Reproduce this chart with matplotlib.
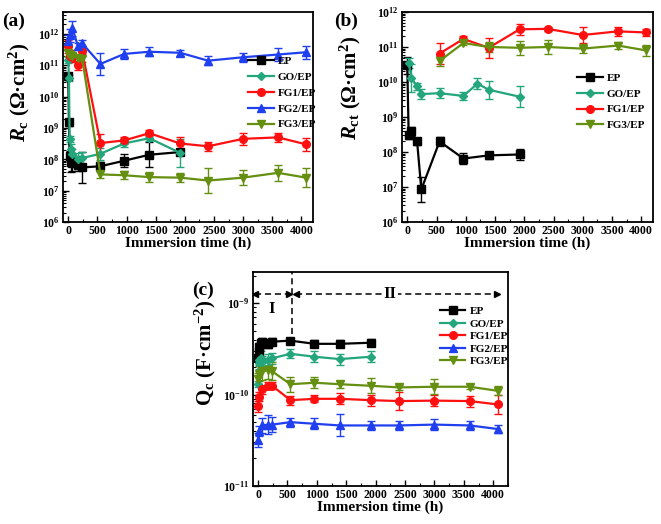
import numpy as np
import matplotlib
matplotlib.use("Agg")
import matplotlib.pyplot as plt
from matplotlib.ticker import MultipleLocator, LogLocator, NullFormatter

plt.rcParams['font.family'] = 'Liberation Serif'
plt.rcParams['font.weight'] = 'bold'
plt.rcParams['mathtext.fontset'] = 'custom'
plt.rcParams['mathtext.rm'] = 'Liberation Serif:bold'
plt.rcParams['mathtext.it'] = 'Liberation Serif:bold:italic'
plt.rcParams['mathtext.bf'] = 'Liberation Serif:bold'

# === Data ===
t_short = [0, 12, 24, 48, 72, 168, 240, 552, 960, 1392, 1920]
t_long = [0, 24, 72, 168, 240, 552, 960, 1392, 1920, 2400, 3000, 3600, 4080]
t_late = [552, 960, 1392, 1920, 2400, 3000, 3600, 4080]

# (a) coating resistance Rc
rc_ep = [4.5e10, 1.5e9, 1.3e8, 8e7, 7.5e7, 6.5e7, 5.5e7, 6e7, 9e7, 1.4e8, 1.7e8]
rc_ep_err = [0.1, 0.1, 0.15, 0.3, 0.25, 0.2, 0.5, 0.15, 0.2, 0.4, 0.1]
rc_go = [1.5e11, 4e10, 4.5e8, 2.2e8, 1.5e8, 1e8, 1.1e8, 1.5e8, 3.2e8, 4.7e8, 1.6e8]
rc_go_err = [0.1, 0.1, 0.1, 0.15, 0.15, 0.2, 0.2, 0.2, 0.1, 0.1, 0.45]
rc_fg1 = [4e11, 2e11, 1.8e11, 1e11, 2.8e11, 3.3e8, 4e8, 6.8e8, 3.2e8, 2.6e8, 4.5e8, 5e8, 3e8]
rc_fg1_err = [0.2, 0.2, 0.15, 0.15, 0.1, 0.3, 0.1, 0.1, 0.2, 0.15, 0.2, 0.15, 0.2]
rc_fg2 = [6e11, 9e11, 1.5e12, 4e11, 5e11, 1.1e11, 2.3e11, 2.7e11, 2.5e11, 1.4e11, 1.8e11, 2.2e11, 2.6e11]
rc_fg2_err = [0.2, 0.2, 0.25, 0.1, 0.1, 0.35, 0.15, 0.15, 0.1, 0.15, 0.15, 0.2, 0.2]
rc_fg3 = [2.5e11, 2.2e11, 2e11, 1.7e11, 1.6e11, 3.3e7, 3.1e7, 2.7e7, 2.6e7, 2.1e7, 2.6e7, 3.7e7, 2.6e7]
rc_fg3_err = [0.1, 0.1, 0.1, 0.1, 0.1, 0.1, 0.12, 0.15, 0.15, 0.4, 0.25, 0.25, 0.3]

# (b) charge transfer resistance Rct
t_rct_ep = [0, 24, 72, 168, 240, 552, 960, 1392, 1920]
rct_ep = [3e10, 3e8, 4e8, 2e8, 8.5e6, 2e8, 6.5e7, 8e7, 8.5e7]
rct_ep_err = [0.25, 0.1, 0.1, 0.1, 0.35, 0.12, 0.15, 0.1, 0.15]
t_rct_go = [24, 72, 168, 240, 552, 960, 1200, 1392, 1920]
rct_go = [3.5e10, 1.3e10, 7.5e9, 4.5e9, 4.8e9, 4e9, 9e9, 6e9, 3.8e9]
rct_go_err = [0.15, 0.4, 0.1, 0.15, 0.15, 0.12, 0.15, 0.25, 0.3]
rct_fg1 = [6.5e10, 1.7e11, 9.5e10, 3.2e11, 3.3e11, 2.2e11, 2.8e11, 2.6e11]
rct_fg1_err = [0.3, 0.08, 0.28, 0.15, 0.06, 0.22, 0.12, 0.1]
rct_fg3 = [4e10, 1.3e11, 1e11, 9.5e10, 1e11, 9e10, 1.1e11, 8e10]
rct_fg3_err = [0.15, 0.06, 0.15, 0.2, 0.2, 0.12, 0.1, 0.15]

# (c) coating capacitance Qc
qc_ep = [2.5e-10, 2.9e-10, 3.3e-10, 3.7e-10, 3.8e-10, 3.6e-10, 3.8e-10, 3.9e-10, 3.6e-10, 3.6e-10, 3.7e-10]
qc_ep_err = [0.03, 0.05, 0.05, 0.04, 0.04, 0.05, 0.04, 0.03, 0.04, 0.04, 0.04]
qc_go = [1.3e-10, 2.2e-10, 2.4e-10, 2.5e-10, 2.3e-10, 2.4e-10, 2.5e-10, 2.8e-10, 2.6e-10, 2.45e-10, 2.6e-10]
qc_go_err = [0.03, 0.06, 0.06, 0.08, 0.06, 0.06, 0.06, 0.05, 0.06, 0.06, 0.06]
qc_fg1 = [7.5e-11, 9.5e-11, 1.15e-10, 1.25e-10, 1.25e-10, 8.7e-11, 9e-11, 9e-11, 8.7e-11, 8.5e-11, 8.6e-11, 8.5e-11, 7.8e-11]
qc_fg1_err = [0.06, 0.05, 0.05, 0.04, 0.04, 0.05, 0.04, 0.06, 0.06, 0.1, 0.06, 0.06, 0.1]
qc_fg2 = [3.2e-11, 4e-11, 4.6e-11, 4.7e-11, 4.7e-11, 5e-11, 4.8e-11, 4.6e-11, 4.6e-11, 4.6e-11, 4.7e-11, 4.6e-11, 4.2e-11]
qc_fg2_err = [0.08, 0.06, 0.08, 0.1, 0.08, 0.05, 0.06, 0.12, 0.05, 0.05, 0.06, 0.05, 0.04]
qc_fg3 = [1.5e-10, 1.7e-10, 1.8e-10, 1.85e-10, 1.8e-10, 1.3e-10, 1.35e-10, 1.3e-10, 1.25e-10, 1.2e-10, 1.22e-10, 1.22e-10, 1.1e-10]
qc_fg3_err = [0.06, 0.08, 0.1, 0.1, 0.1, 0.08, 0.06, 0.04, 0.08, 0.03, 0.08, 0.03, 0.05]

# === Styles ===
styles = {
    "EP": dict(color="black", marker="s"),
    "GO/EP": dict(color="#24a67c", marker="D"),
    "FG1/EP": dict(color="#ff1010", marker="o"),
    "FG2/EP": dict(color="#2040f0", marker="^"),
    "FG3/EP": dict(color="#658f10", marker="v"),
}


def draw(ax, name, t, v, err):
    v = np.array(v)
    e = 10 ** np.array(err)
    yerr = [v - v / e, v * e - v]
    st = styles[name]
    ms = 5.5 if st["marker"] != "D" else 4.5
    ax.errorbar(t, v, yerr=yerr, color=st["color"], marker=st["marker"], ms=ms,
                lw=1.6, elinewidth=1.0, capsize=3, capthick=1.0, label=name)


def style_axis(ax, xlim, ylim, ylabel, ylab_xy):
    ax.set_yscale("log")
    ax.set_xlim(*xlim)
    ax.set_ylim(*ylim)
    ax.xaxis.set_major_locator(MultipleLocator(500))
    ax.xaxis.set_minor_locator(MultipleLocator(250))
    ax.yaxis.set_major_locator(LogLocator(base=10, numticks=20))
    ax.yaxis.set_minor_locator(LogLocator(base=10, subs=np.arange(2, 10), numticks=20))
    ax.yaxis.set_minor_formatter(NullFormatter())
    ax.tick_params(which="both", direction="in", top=False, right=False, labelsize=8.5)
    ax.tick_params(which="major", length=4, width=1, pad=2.5)
    ax.tick_params(axis="x", which="major", pad=2)
    ax.tick_params(which="minor", length=2, width=0.8)
    for sp in ax.spines.values():
        sp.set_linewidth(1.3)
    ax.set_xlabel("Immersion time (h)", fontsize=11, fontweight="bold", labelpad=0)
    ax.set_ylabel(ylabel, fontsize=15, fontweight="bold")
    ax.yaxis.set_label_coords(*ylab_xy)


def add_legend(ax, anchor, spacing=0.55):
    handles = [c[0] for c in ax.containers]
    labels = [c.get_label() for c in ax.containers]
    ax.legend(handles, labels, loc="upper left", bbox_to_anchor=anchor, frameon=False,
              fontsize=8, handlelength=2.3, labelspacing=spacing, borderaxespad=0,
              handletextpad=0.4, borderpad=0)


fig = plt.figure(figsize=(6.61, 5.24), dpi=100)
W, H = 661, 524


def box(l, t, r, b):
    return [l / W, 1 - b / H, (r - l) / W, (b - t) / H]


# (a)
ax_a = fig.add_axes(box(63, 12, 313, 222))
draw(ax_a, "EP", t_short, rc_ep, rc_ep_err)
draw(ax_a, "GO/EP", t_short, rc_go, rc_go_err)
draw(ax_a, "FG1/EP", t_long, rc_fg1, rc_fg1_err)
draw(ax_a, "FG2/EP", t_long, rc_fg2, rc_fg2_err)
draw(ax_a, "FG3/EP", t_long, rc_fg3, rc_fg3_err)
style_axis(ax_a, (-90, 4200), (1e6, 5e12), r"$R_{\rm c}$ (Ω·cm$^{2}$)", (-0.125, 0.62))
add_legend(ax_a, (0.74, 0.79))

# (b)
ax_b = fig.add_axes(box(402, 12, 653, 222))
draw(ax_b, "EP", t_rct_ep, rct_ep, rct_ep_err)
draw(ax_b, "GO/EP", t_rct_go, rct_go, rct_go_err)
draw(ax_b, "FG1/EP", t_late, rct_fg1, rct_fg1_err)
draw(ax_b, "FG3/EP", t_late, rct_fg3, rct_fg3_err)
style_axis(ax_b, (-90, 4200), (1e6, 1e12), r"$R_{\rm ct}$ (Ω·cm$^{2}$)", (-0.155, 0.64))
add_legend(ax_b, (0.697, 0.71))

# (c)
ax_c = fig.add_axes(box(253, 272, 508, 486))
draw(ax_c, "EP", t_short, qc_ep, qc_ep_err)
draw(ax_c, "GO/EP", t_short, qc_go, qc_go_err)
draw(ax_c, "FG1/EP", t_long, qc_fg1, qc_fg1_err)
draw(ax_c, "FG2/EP", t_long, qc_fg2, qc_fg2_err)
draw(ax_c, "FG3/EP", t_long, qc_fg3, qc_fg3_err)
style_axis(ax_c, (-85, 4250), (1e-11, 2.2e-9), r"Q$_{\rm c}$ (F·cm$^{-2}$)", (-0.137, 0.62))
add_legend(ax_c, (0.733, 0.84), spacing=0.25)

# stage annotations in (c)
y_arrow = 1.26e-9
dash = (0, (4, 2.5))
ax_c.plot([-55, 530], [y_arrow, y_arrow], color="k", lw=1.1, linestyle=dash)
ax_c.plot([640, 4060], [y_arrow, y_arrow], color="k", lw=1.1, linestyle=dash)
ax_c.plot([-55, 640], [y_arrow, y_arrow], ls="none", marker="<", ms=5, color="k")
ax_c.plot([530, 4060], [y_arrow, y_arrow], ls="none", marker=">", ms=5, color="k")
ax_c.plot([575, 575], [4.6e-10, 2.2e-9], color="k", lw=1.1, linestyle=dash)
ax_c.text(240, 8.6e-10, "I", fontsize=12, fontweight="bold", ha="center", va="center")
ax_c.text(2250, y_arrow, "II", fontsize=12, fontweight="bold", ha="center", va="center",
          bbox=dict(facecolor="white", edgecolor="none", pad=0.5))

# panel labels
fig.text(0.003, 0.975, "(a)", fontsize=14, fontweight="bold", va="top")
fig.text(0.506, 0.975, "(b)", fontsize=14, fontweight="bold", va="top")
fig.text(0.290, 0.462, "(c)", fontsize=14, fontweight="bold", va="top")

fig.savefig("out.png", dpi=100)
